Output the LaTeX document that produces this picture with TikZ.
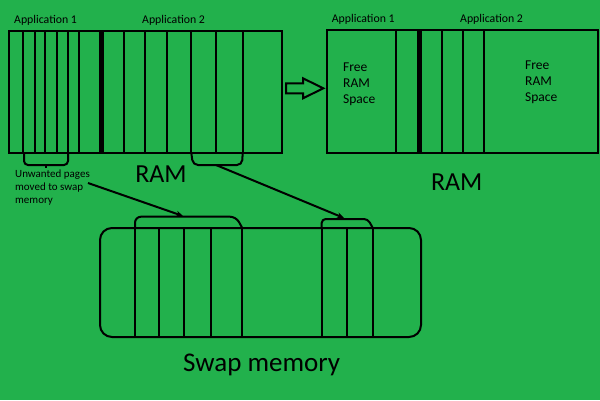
\documentclass[tikz,border=0pt]{standalone}
\usepackage{fontspec}
\setmainfont{Carlito}
\usepackage[dvipsnames,svgnames]{xcolor}
\usetikzlibrary{positioning}
\usetikzlibrary{arrows.meta}
\definecolor{paintgreen}{RGB}{34,177,76}
\tikzset{ramline/.style={line width=2pt,black},
         thickbar/.style={line width=5pt,black},
         smalltext/.style={inner sep=0pt,font=\fontsize{11}{13}\selectfont},
         apptext/.style={inner sep=0pt,font=\fontsize{11.8}{13}\selectfont},
         freetext/.style={inner sep=0pt,align=left,font=\fontsize{13.5}{16}\selectfont},
         bigtext/.style={inner sep=0pt,font=\fontsize{26}{30}\selectfont},
         moveto/.style={line width=2pt,-{Stealth[length=7pt,width=6pt]}}}

\begin{document}
\begin{tikzpicture}[x=1pt,y=-1pt]
            \fill[paintgreen] (0,0) rectangle (600,400);
            \useasboundingbox (0,0) rectangle (600,400);
            % RAM before
            \draw[ramline] (9,30.5) rectangle (281.7,153);
            \foreach \x in {22.7,35.3,45.3,56.7,68,78.7,124,144.7,166.7,191.3,216,242.7}
                \draw[ramline] (\x,30.5) -- (\x,153);
            \draw[thickbar] (101,30.5) -- (101,153);
            \node[apptext,anchor=west] (appone) at (14,20) {Application 1};
            \node[apptext,anchor=west] (apptwo) at (142,20) {Application 2};
            \node[bigtext] (ramleft) at (161,174) {RAM};
            \node[smalltext,align=left,anchor=north west] (unwanted) at (15,169.5) {Unwanted pages\\moved to swap\\memory};
            % brackets under the moved pages
            \draw[ramline,rounded corners=4pt] (24,153) -- (24,165) -- (68,165) -- (68,153);
            \draw[ramline] (46,165) -- (46,168);
            \draw[ramline,rounded corners=5pt] (191.3,153) -- (193,165) -- (242,165) -- (242.7,153);
            \coordinate (textend) at (88,183);
            \coordinate (brackettwo) at (216,165);
            % block arrow
            \draw[ramline] (286,83.3) -- (303,83.3) -- (303,78.3) -- (323.3,88.3) -- (303,98.3) -- (303,93.3) -- (286,93.3) -- cycle;
            % RAM after
            \draw[ramline] (326.7,30) rectangle (598.3,152.5);
            \foreach \x in {396,441.7,462.7,484}
                \draw[ramline] (\x,30) -- (\x,152.5);
            \draw[thickbar] (419,30) -- (419,152.5);
            \node[apptext,anchor=west] (apponeafter) at (331.7,19) {Application 1};
            \node[apptext,anchor=west] (apptwoafter) at (460,19) {Application 2};
            \node[freetext,anchor=west] (freeone) at (343,84) {Free\\RAM\\Space};
            \node[freetext,anchor=west] (freetwo) at (525,82) {Free\\RAM\\Space};
            \node[bigtext] (ramright) at (456.7,182) {RAM};
            % swap memory
            \draw[ramline,rounded corners=12pt] (100,228) rectangle (421,337);
            \foreach \x in {135,159,184.3,211.3,242.3,321.7,346.7,372.7}
                \draw[ramline] (\x,228) -- (\x,337);
            \draw[ramline,rounded corners=6pt] (135,228) -- (135,216.7) -- (236,216.7) -- (242.3,228);
            \draw[ramline,rounded corners=4pt] (321.7,228) -- (321.7,219) -- (368,219) -- (372.7,228);
            \coordinate (tabone) at (183,216);
            \coordinate (tabtwo) at (344,218);
            \node[bigtext,font=\fontsize{27}{30}\selectfont] (swap) at (261.7,365) {Swap memory};
            \draw[moveto] (textend) -- (tabone);
            \draw[moveto] (brackettwo) -- (tabtwo);
\end{tikzpicture}
\end{document}
